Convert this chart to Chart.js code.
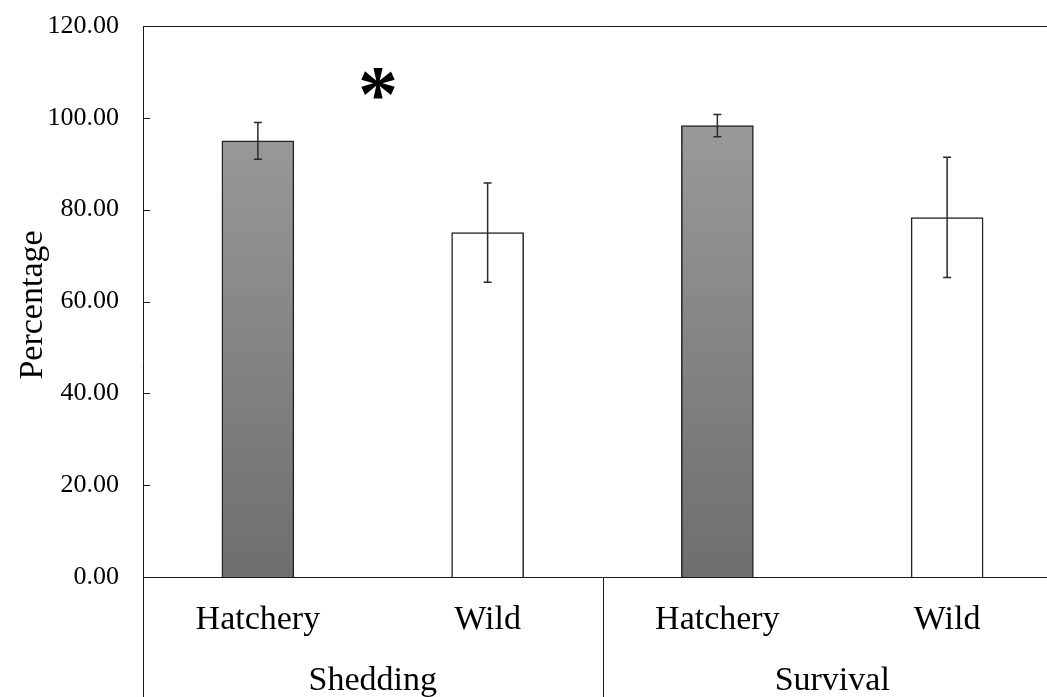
<!DOCTYPE html>
<html>
<head>
<meta charset="utf-8">
<script src="https://cdn.jsdelivr.net/npm/chart.js@4.4.1/dist/chart.umd.min.js"></script>
<style>
  html, body { margin: 0; padding: 0; background: #fff; overflow: hidden; }
  #wrap { position: relative; width: 1062px; height: 697px; }
</style>
</head>
<body>
<div id="wrap"><canvas id="c"></canvas></div>
<script>
// ---- data ----
const categories = ['Hatchery', 'Wild', 'Hatchery', 'Wild'];
const groups = ['Shedding', 'Survival'];
const values = [95.0, 75.0, 98.3, 78.3];
const errors = [4.0, 10.8, 2.4, 13.1];
const yTickLabels = ['0.00', '20.00', '40.00', '60.00', '80.00', '100.00', '120.00'];
const yTitle = 'Percentage';
const significance = '*';

const SERIF = "'Liberation Serif', 'Times New Roman', serif";
const LINE = '#1a1a1a';

function hatcheryGradient(ctx) {
  const chart = ctx.chart;
  const area = chart.chartArea;
  if (!area) return '#888';
  const y = chart.scales.y;
  const g = chart.ctx.createLinearGradient(0, y.getPixelForValue(100), 0, y.getPixelForValue(0));
  g.addColorStop(0, '#9a9a9a');
  g.addColorStop(1, '#6e6e6e');
  return g;
}

const overlay = {
  id: 'overlay',
  afterDatasetsDraw(chart) {
    const ctx = chart.ctx;
    const xs = chart.scales.x, ys = chart.scales.y;
    const a = chart.chartArea;
    const W = chart.width, H = chart.height;
    ctx.save();
    // error bars
    ctx.strokeStyle = '#2a2a2a';
    ctx.lineWidth = 1.5;
    values.forEach((v, i) => {
      const x = xs.getPixelForValue(i);
      const yt = ys.getPixelForValue(v + errors[i]);
      const yb = ys.getPixelForValue(v - errors[i]);
      ctx.beginPath();
      ctx.moveTo(x, yt); ctx.lineTo(x, yb);
      ctx.moveTo(x - 4, yt); ctx.lineTo(x + 4, yt);
      ctx.moveTo(x - 4, yb); ctx.lineTo(x + 4, yb);
      ctx.stroke();
    });
    // frame lines
    ctx.strokeStyle = LINE;
    ctx.lineWidth = 1;
    ctx.beginPath();
    ctx.moveTo(a.left, a.top + 0.5); ctx.lineTo(W, a.top + 0.5);
    ctx.moveTo(a.left + 0.5, a.top); ctx.lineTo(a.left + 0.5, H);
    ctx.moveTo(a.left, a.bottom + 0.5); ctx.lineTo(W, a.bottom + 0.5);
    const sep = (xs.getPixelForValue(1) + xs.getPixelForValue(2)) / 2;
    ctx.moveTo(Math.round(sep) + 0.5, a.bottom); ctx.lineTo(Math.round(sep) + 0.5, H);
    // inward y ticks
    ys.ticks.forEach(t => {
      const py = Math.round(ys.getPixelForValue(t.value)) + 0.5;
      ctx.moveTo(a.left, py); ctx.lineTo(a.left + 7, py);
    });
    ctx.stroke();
    // group labels
    ctx.fillStyle = '#000';
    ctx.font = '34px ' + SERIF;
    ctx.textAlign = 'center';
    ctx.textBaseline = 'alphabetic';
    const g1 = (a.left + sep) / 2, g2 = (sep + a.right) / 2;
    ctx.fillText(groups[0], g1, 690);
    ctx.fillText(groups[1], g2, 690);
    // y title
    ctx.save();
    ctx.translate(42, 305);
    ctx.rotate(-Math.PI / 2);
    ctx.textBaseline = 'alphabetic';
    ctx.fillText(yTitle, 0, 0);
    ctx.restore();
    // significance mark
    ctx.font = 'bold 80px ' + SERIF;
    ctx.textBaseline = 'middle';
    ctx.fillText(significance, 378, 100);
    ctx.restore();
  }
};

new Chart(document.getElementById('c'), {
  type: 'bar',
  data: {
    labels: categories,
    datasets: [{
      data: values,
      backgroundColor: (ctx) => (ctx.dataIndex % 2 === 0 ? hatcheryGradient(ctx) : '#ffffff'),
      borderColor: '#222',
      borderWidth: 1.5,
      barThickness: 72,
      borderSkipped: 'bottom'
    }]
  },
  options: {
    responsive: true,
    maintainAspectRatio: false,
    animation: false,
    devicePixelRatio: 1,
    layout: { autoPadding: false, padding: { top: 26, left: 0, right: 0, bottom: 0 } },
    plugins: { legend: { display: false }, tooltip: { enabled: false } },
    scales: {
      x: {
        type: 'category',
        grid: { display: false, drawTicks: false },
        border: { display: false },
        ticks: { color: '#000', font: { family: SERIF, size: 34 }, padding: 23, maxRotation: 0 },
        afterFit: (s) => { s.height = 120; s.paddingLeft = 0; s.paddingRight = 0; }
      },
      y: {
        min: 0, max: 120,
        grid: { display: false, drawTicks: false },
        border: { display: false },
        ticks: {
          stepSize: 20,
          color: '#000',
          font: { family: SERIF, size: 26 },
          padding: 24,
          callback: (v, i) => yTickLabels[i]
        },
        afterFit: (s) => { s.width = 143; s.paddingTop = 0; s.paddingBottom = 0; }
      }
    }
  },
  plugins: [overlay]
});
</script>
</body>
</html>
